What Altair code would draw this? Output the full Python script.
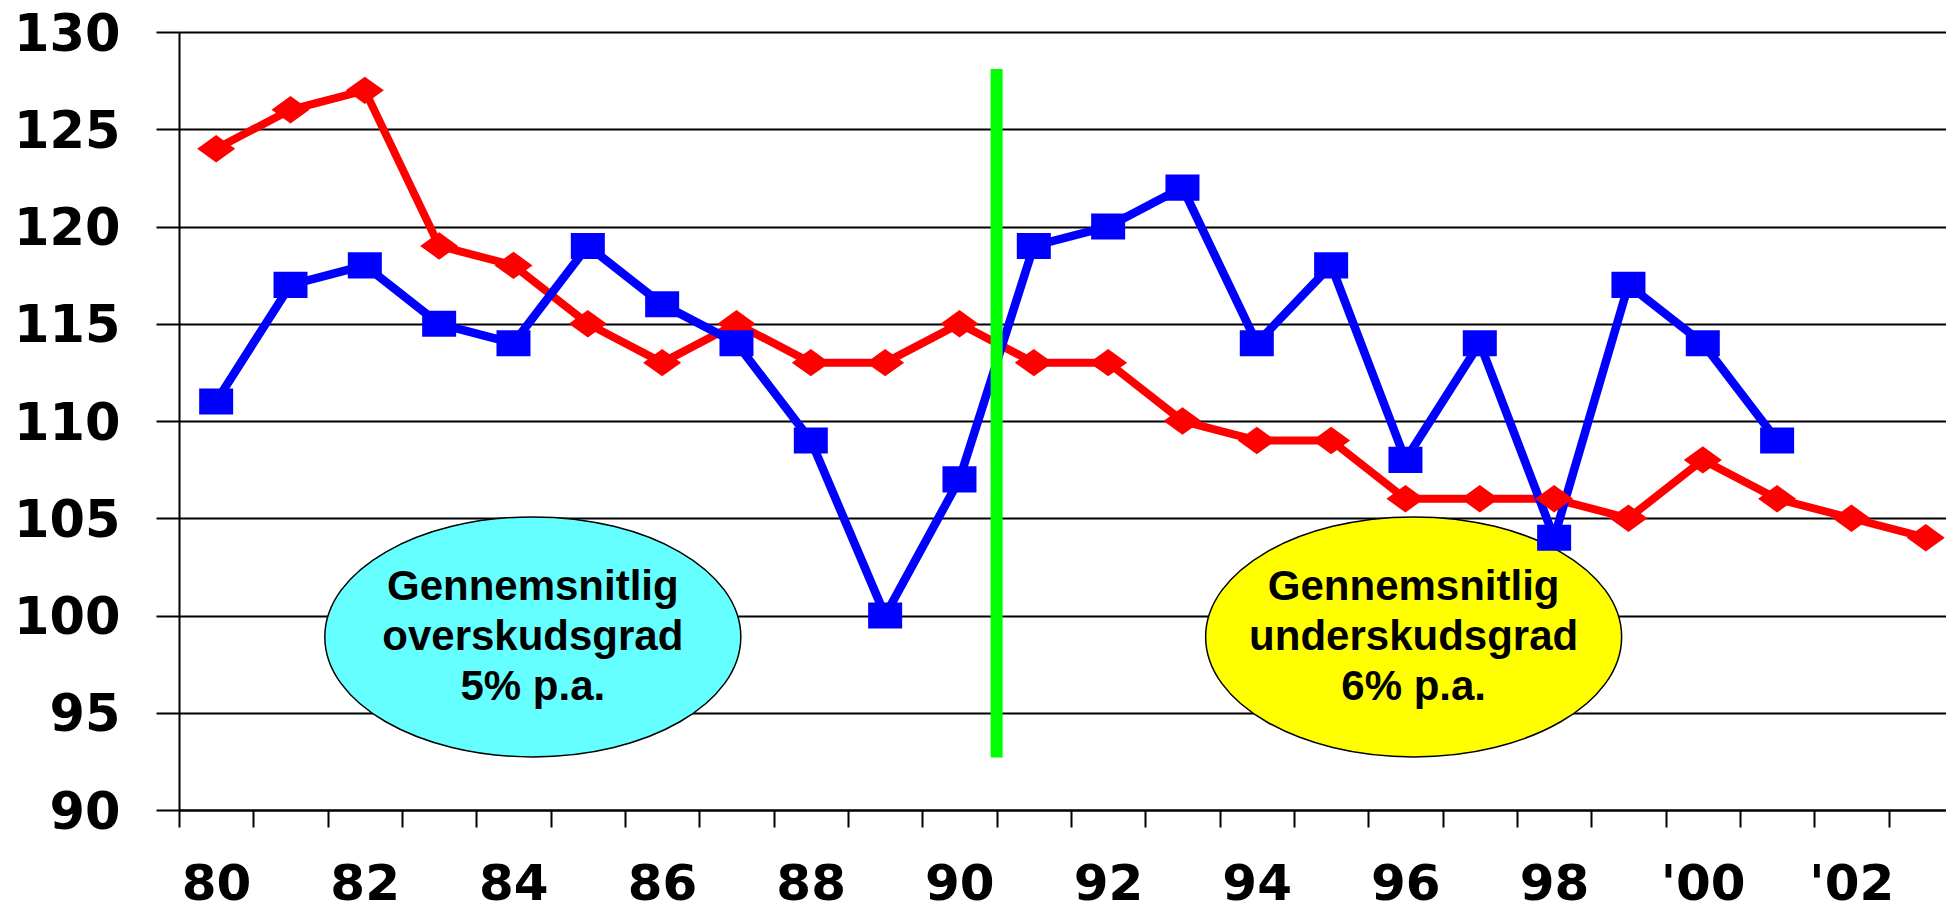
import json
import altair as alt
import pandas as pd

# ---------------- data ----------------
years = [1980, 1981, 1982, 1983, 1984, 1985, 1986, 1987, 1988, 1989, 1990, 1991,
         1992, 1993, 1994, 1995, 1996, 1997, 1998, 1999, 2000, 2001, 2002, 2003]
blue_values = [111, 117, 118, 115, 114, 119, 116, 114, 109, 100, 107, 119,
               120, 122, 114, 118, 108, 114, 104, 117, 114, 109, None, None]
red_values = [124, 126, 127, 119, 118, 115, 113, 115, 113, 113, 115, 113,
              113, 110, 109, 109, 106, 106, 106, 105, 108, 106, 105, 104]

label_years = [1980, 1982, 1984, 1986, 1988, 1990, 1992, 1994, 1996, 1998, 2000, 2002]
tick_labels = ["80", "82", "84", "86", "88", "90", "92", "94", "96", "98", "'00", "'02"]
y_ticks = [90, 95, 100, 105, 110, 115, 120, 125, 130]

note_names = ["over", "under"]
note_texts = ["Gennemsnitlig\noverskudsgrad\n5% p.a.",
              "Gennemsnitlig\nunderskudsgrad\n6% p.a."]
note_x = [1984.26, 1996.11]
note_y = [98.9, 98.9]
note_text_y = [101.45, 101.45]
note_fill = ["#66FFFF", "#FFFF00"]

divider_x = [1990.5]
divider_y = [92.7]
divider_y2 = [128.1]

# ---------------- frames ----------------
blue_df = pd.DataFrame({"year": years, "value": blue_values}).dropna()
red_df = pd.DataFrame({"year": years, "value": red_values})
note_df = pd.DataFrame({"name": note_names, "year": note_x, "value": note_y})
note_text_df = pd.DataFrame({"text": note_texts, "year": note_x, "value": note_text_y})
div_df = pd.DataFrame({"year": divider_x, "value": divider_y, "value2": divider_y2})

# ---------------- scales / axes ----------------
band_edges = [y - 0.5 for y in years]
label_expr = " : ".join(
    f"datum.value == {y - 0.5} ? {json.dumps(l)}" for y, l in zip(label_years, tick_labels)
) + " : ''"

xscale = alt.Scale(domain=[1979.5, 2003.272], nice=False, zero=False)
yscale = alt.Scale(domain=[90, 130], nice=False, zero=False)

xaxis = alt.Axis(values=band_edges, labelExpr=label_expr, title=None, grid=False,
                 domainColor="black", domainWidth=2, tickColor="black", tickWidth=2,
                 tickSize=17, labelFont="DejaVu Sans", labelFontWeight="bold",
                 labelFontSize=50, labelColor="black", labelPadding=32, labelOffset=37,
                 labelOverlap=False, labelFlush=False)
yaxis = alt.Axis(values=y_ticks, title=None, grid=True, gridColor="black", gridWidth=2,
                 gridOpacity=1, domainColor="black", domainWidth=2, tickColor="black",
                 tickWidth=2, tickSize=23, labelFont="DejaVu Sans", labelFontWeight="bold",
                 labelFontSize=51, labelColor="black", labelPadding=36, labelOffset=3)

X = alt.X("year:Q", scale=xscale, axis=xaxis)
Y = alt.Y("value:Q", scale=yscale, axis=yaxis)

ELLIPSE = "M -1 0 A 1 0.577 0 1 1 1 0 A 1 0.577 0 1 1 -1 0 Z"
RECT = "M -1 -0.767 L 1 -0.767 L 1 0.767 L -1 0.767 Z"
DIAMOND = "M -1 0 L 0 -0.722 L 1 0 L 0 0.722 Z"

ellipses = alt.Chart(note_df).mark_point(
    shape=ELLIPSE, size=173056, filled=True, stroke="black", strokeWidth=1.5,
    opacity=1, fillOpacity=1
).encode(
    x=X, y=Y,
    fill=alt.Fill("name:N", scale=alt.Scale(domain=note_names, range=note_fill), legend=None),
)

note_text = alt.Chart(note_text_df).mark_text(
    font="Liberation Sans", fontWeight="bold", fontSize=42, lineBreak="\n",
    lineHeight=50, align="center", baseline="middle", color="black"
).encode(x=X, y=Y, text="text:N")

red_line = alt.Chart(red_df).mark_line(color="#FF0000", strokeWidth=8).encode(x=X, y=Y)
blue_line = alt.Chart(blue_df).mark_line(color="#0000FF", strokeWidth=8.5).encode(x=X, y=Y)

divider = alt.Chart(div_df).mark_rule(color="#00FF00", strokeWidth=12, strokeCap="butt").encode(
    x=X, y=Y, y2="value2:Q")

red_pts = alt.Chart(red_df).mark_point(shape=DIAMOND, size=1444, filled=True,
                                       color="#FF0000", opacity=1).encode(x=X, y=Y)
blue_pts = alt.Chart(blue_df).mark_point(shape=RECT, size=1156, filled=True,
                                         color="#0000FF", opacity=1).encode(x=X, y=Y)

chart = alt.layer(
    ellipses, note_text, red_line, blue_line, divider, red_pts, blue_pts
).properties(
    width=1767, height=778,
    autosize=alt.AutoSizeParams(type="none"),
    padding={"left": 171, "top": 24, "right": 0, "bottom": 100},
    background="white",
).configure_view(strokeWidth=0)

chart.save("out.html", embed_options={"renderer": "svg", "actions": False})
